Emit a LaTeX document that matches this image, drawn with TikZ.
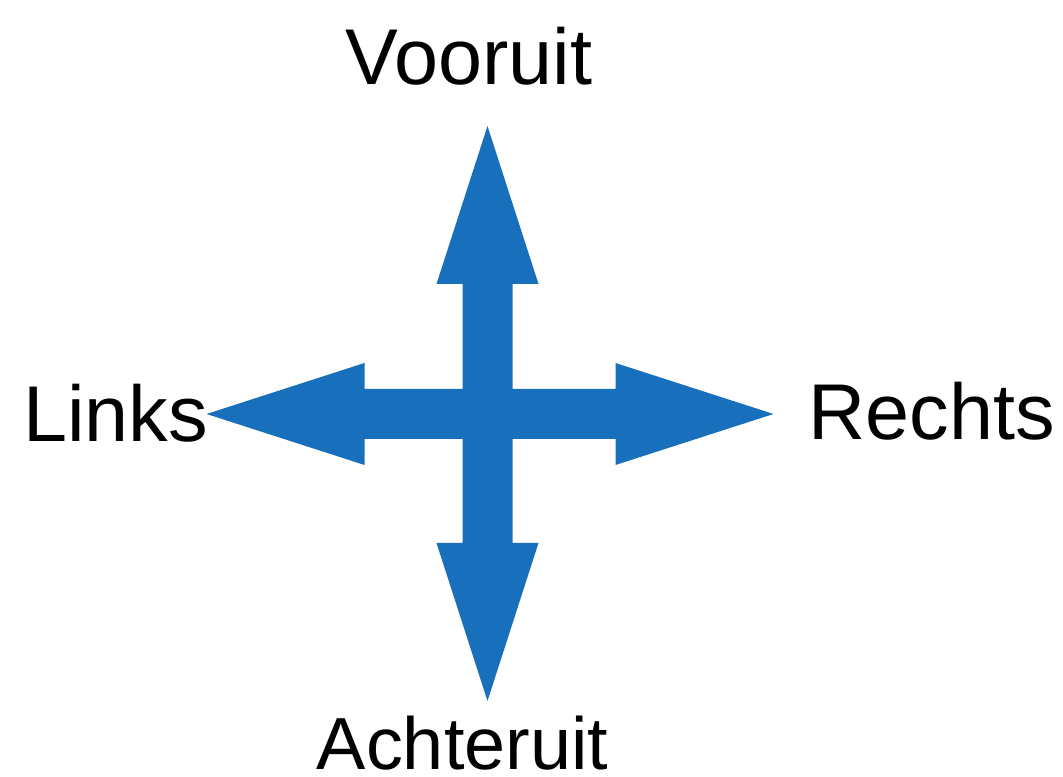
\documentclass[tikz,border=0pt]{standalone}
\usepackage{fontspec}
\setmainfont{Liberation Sans}
\usetikzlibrary{calc}
\definecolor{crossblue}{RGB}{24,112,188}

\begin{document}
\begin{tikzpicture}[
  x=0.01cm, y=-0.01cm,
  lbl/.style={inner sep=0pt, anchor=base, text=black,
              font=\fontsize{22.5pt}{27pt}\selectfont},
  arm/.style={fill=crossblue, draw=none},
]
\useasboundingbox (0,0) rectangle (1063,777);
\coordinate (mid) at (487.5,414);
% one arm per direction: angle / length to the tip
\foreach \ang/\len in {90/287, 270/288, 180/281, 0/286} {
  \fill[arm, rotate around={-\ang:(mid)}]
    ($(mid)+(-25,25)$) -- ($(mid)+(\len-158,25)$) -- ($(mid)+(\len-158,51)$)
    -- ($(mid)+(\len,0)$) -- ($(mid)+(\len-158,-51)$) -- ($(mid)+(\len-158,-25)$)
    -- ($(mid)+(-25,-25)$) -- cycle;
}
\node[lbl] (up)    at (469,85)    {Vooruit};
\node[lbl] (left)  at (115.5,442) {Links};
\node[lbl] (right) at (931.5,440) {Rechts};
\node[lbl, text depth=0pt, font=\fontsize{21pt}{25pt}\selectfont] (down) at (462.5,770) {Achteruit};
\end{tikzpicture}
\end{document}
